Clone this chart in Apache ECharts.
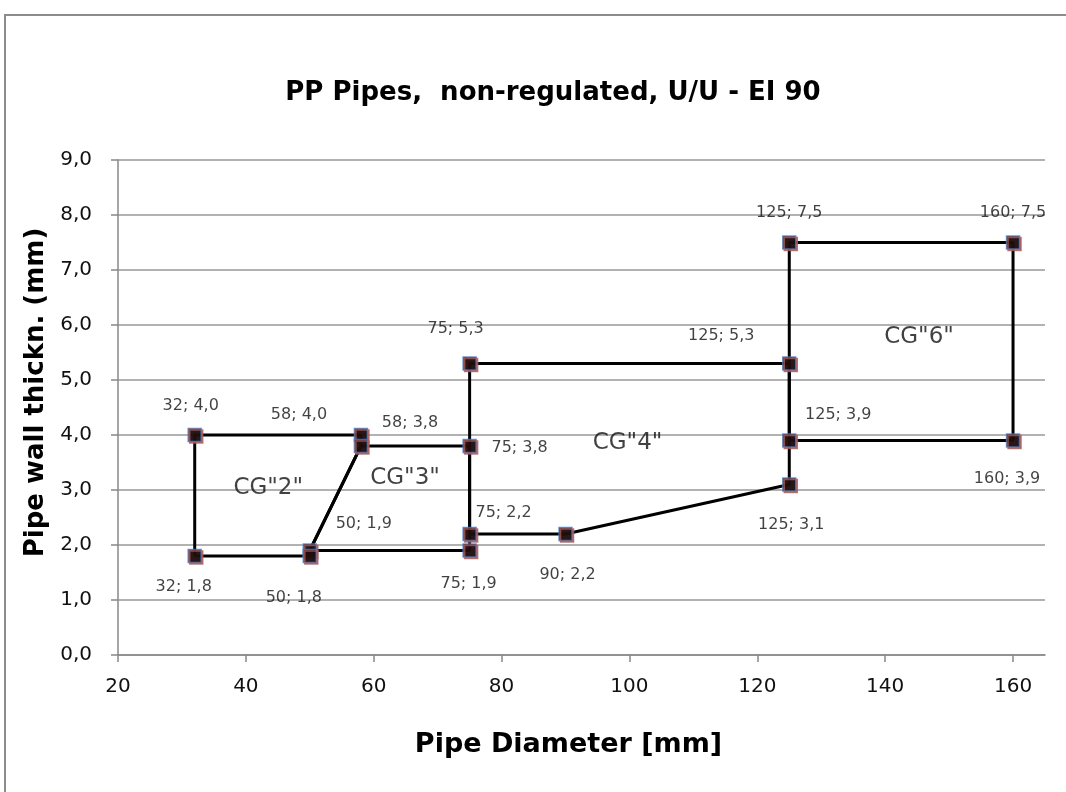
<!DOCTYPE html>
<html><head><meta charset="utf-8">
<script src="https://cdn.jsdelivr.net/npm/echarts@6/dist/echarts.min.js"></script>
<style>html,body{margin:0;padding:0;background:#fff}#c{width:1066px;height:792px}</style>
</head><body><div id="c"></div>
<script>
// Labelled points (pipe diameter, wall thickness)
const pointX = [32, 58, 58, 75, 75, 125, 125, 160, 125, 160, 125, 90, 75, 75, 50, 50, 32];
const pointY = [4.0, 4.0, 3.8, 3.8, 5.3, 5.3, 7.5, 7.5, 3.9, 3.9, 3.1, 2.2, 2.2, 1.9, 1.9, 1.8, 1.8];
// Zone outlines
const cg2X = [32, 32, 58, 58, 50, 50, 32];
const cg2Y = [1.8, 4.0, 4.0, 3.8, 1.9, 1.8, 1.8];
const cg3X = [50, 58, 75, 75, 50];
const cg3Y = [1.9, 3.8, 3.8, 1.9, 1.9];
const cg4X = [75, 75, 125, 125, 90, 75];
const cg4Y = [2.2, 5.3, 5.3, 3.1, 2.2, 2.2];
const cg6X = [125, 125, 160, 160, 125];
const cg6Y = [3.9, 7.5, 7.5, 3.9, 3.9];
// Zone annotations
const zoneNames = ['CG"2"', 'CG"3"', 'CG"4"', 'CG"6"'];
const zoneX = [43.5, 64.9, 99.7, 145.3];
const zoneY = [3.04, 3.22, 3.85, 5.78];
const xTicks = [20, 40, 60, 80, 100, 120, 140, 160];
const yTicks = [0, 1, 2, 3, 4, 5, 6, 7, 8, 9];

// label offsets (style only), in pixels, same order as points
const labelOffsets = [[-4,-29],[-62,-20],[49,-23],[50,2],[-14,-35],[-68,-28],[0,-30],[0,-30],[49,-26],[-6,38],[2,40],[2,41],[34,-21],[-1,33],[54,-27],[-16,42],[-11,31]];

const fmt = v => v.toFixed(1).replace('.', ',');
const zip = (xs, ys) => xs.map((x, i) => [x, ys[i]]);

const lineStyle = {color: '#000', width: 3};
const polySeries = [[cg2X, cg2Y], [cg3X, cg3Y], [cg4X, cg4Y], [cg6X, cg6Y]].map(([xs, ys]) => ({
  type: 'line', data: zip(xs, ys), showSymbol: false, symbol: 'none',
  lineStyle, silent: true, z: 2, animation: false
}));

const pts = pointX.map((x, i) => ({
  value: [x, pointY[i]],
  label: {offset: labelOffsets[i]}
}));

const chart = echarts.init(document.getElementById('c'));
chart.setOption({
  animation: false,
  backgroundColor: '#fff',
  title: {
    text: 'PP Pipes,  non-regulated, U/U - EI 90',
    left: 548, top: 75, textAlign: 'center',
    textStyle: {fontFamily: 'DejaVu Sans', fontWeight: 'bold', fontSize: 26, color: '#000'}
  },
  graphic: [{
    type: 'rect', shape: {x: 5, y: 15, width: 1200, height: 900},
    style: {fill: 'none', stroke: '#8c8c8c', lineWidth: 2}, z: -1, silent: true
  }],
  grid: {left: 118, right: 21, top: 160, bottom: 137},
  xAxis: {
    type: 'value', min: 20, max: 165, interval: 20,
    name: 'Pipe Diameter [mm]', nameLocation: 'middle', nameGap: 76,
    nameTextStyle: {fontFamily: 'DejaVu Sans', fontWeight: 'bold', fontSize: 27, color: '#000', padding: [0, 26, 0, 0]},
    axisLine: {lineStyle: {color: '#888', width: 1.5}},
    axisTick: {show: true, length: 7, inside: false, customValues: xTicks, lineStyle: {color: '#888', width: 1.5}},
    axisLabel: {margin: 22, fontFamily: 'DejaVu Sans', fontSize: 20, color: '#111', customValues: xTicks,
      formatter: v => xTicks.includes(v) ? String(v) : ''},
    splitLine: {show: false}
  },
  yAxis: {
    type: 'value', min: 0, max: 9, interval: 1,
    name: 'Pipe wall thickn. (mm)', nameLocation: 'middle', nameGap: 68, nameRotate: 90,
    nameTextStyle: {fontFamily: 'DejaVu Sans', fontWeight: 'bold', fontSize: 26, color: '#000', padding: [0, 0, 0, 30]},
    axisLine: {show: true, lineStyle: {color: '#888', width: 1.5}},
    axisTick: {show: true, length: 7, inside: false, lineStyle: {color: '#888', width: 1.5}},
    axisLabel: {margin: 26, fontFamily: 'DejaVu Sans', fontSize: 20, color: '#111',
      formatter: v => yTicks.includes(v) ? fmt(v) : ''},
    splitLine: {show: true, lineStyle: {color: '#999', width: 1.5}}
  },
  series: [
    ...polySeries,
    {
      type: 'scatter', data: pts, symbol: 'rect', symbolSize: 13, z: 3,
      itemStyle: {color: '#000', borderColor: '#4a7ebb', borderWidth: 1.5,
        shadowColor: '#c0504d', shadowOffsetX: 1.5, shadowOffsetY: 1.5, shadowBlur: 0},
      label: {show: true, position: 'inside', fontFamily: 'DejaVu Sans', fontSize: 16, color: '#111',
        formatter: p => p.value[0] + '; ' + fmt(p.value[1])}
    },
    {
      type: 'scatter', symbol: 'circle', symbolSize: 1, z: 4,
      itemStyle: {color: 'rgba(0,0,0,0)'},
      data: zoneX.map((x, i) => ({value: [x, zoneY[i]], name: zoneNames[i]})),
      label: {show: true, position: 'inside', fontFamily: 'DejaVu Sans', fontSize: 23, color: '#111',
        formatter: p => p.name}
    }
  ]
});
</script></body></html>
